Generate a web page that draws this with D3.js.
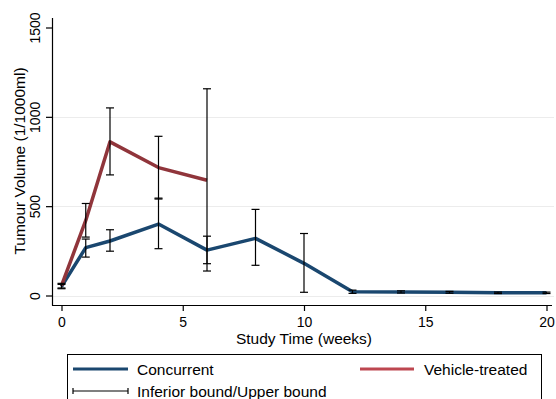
<!DOCTYPE html>
<html>
<head>
<meta charset="utf-8">
<script src="https://d3js.org/d3.v7.min.js"></script>
<style>
  body { margin: 0; background: #fff; }
  svg { font-family: "Liberation Sans", Arial, sans-serif; }
</style>
</head>
<body>
<svg id="chart" width="556" height="399"></svg>
<script>
// weeks and values (tumour volume, 1/1000ml)
var concWeeks = [0, 1, 2, 4, 6, 8, 10, 12, 14, 16, 18, 20];
var concMean  = [50, 268, 305, 400, 254, 320, 180, 21, 20, 18, 15, 15];
var concLow   = [38, 215, 248, 262, 178, 169, 18, 12, 14, 13, 11, 11];
var concHigh  = [62, 316, 368, 545, 332, 482, 347, 30, 26, 23, 19, 19];

var vehWeeks = [0, 1, 2, 4, 6];
var vehMean  = [55, 420, 860, 716, 645];
var vehLow   = [42, 327, 675, 540, 137];
var vehHigh  = [68, 515, 1050, 891, 1157];

var xTicks = [0, 5, 10, 15, 20];
var yTicks = [0, 500, 1000, 1500];

var blue = "#1a476f", red = "#90353b", redKey = "#bd4750";

var svg = d3.select("#chart");

var x = d3.scaleLinear().domain([0, 20]).range([61.5, 546.5]);
var y = d3.scaleLinear().domain([0, 1500]).range([295.5, 27.5]);

// gridlines
svg.append("g").selectAll("line")
  .data([0, 500, 1000])
  .enter().append("line")
    .attr("x1", 53).attr("x2", 554)
    .attr("y1", function(d) { return Math.round(y(d)) + 0.5; })
    .attr("y2", function(d) { return Math.round(y(d)) + 0.5; })
    .attr("stroke", "#ececec").attr("stroke-width", 1);

// axes
var yAxis = svg.append("g")
  .attr("transform", "translate(52,0)")
  .call(d3.axisLeft(y).tickValues(yTicks).tickFormat(d3.format("d")).tickSize(6).tickSizeOuter(0));
yAxis.select(".domain").attr("d", "M0.5,18V305.5");
yAxis.selectAll("text")
  .attr("transform", "rotate(-90)")
  .attr("x", 0).attr("y", -12).attr("dy", "0")
  .attr("text-anchor", "middle")
  .style("font-size", "14px").attr("fill", "#000");

var xAxis = svg.append("g")
  .attr("transform", "translate(0,305)")
  .call(d3.axisBottom(x).tickValues(xTicks).tickSize(6).tickSizeOuter(0));
xAxis.select(".domain").attr("d", "M52,0.5H552");
xAxis.selectAll("text").attr("y", 12).style("font-size", "14px").attr("fill", "#000");

svg.selectAll(".domain, .tick line").attr("stroke", "#000").attr("stroke-width", 1.2);
svg.selectAll(".tick text").attr("font-family", "Liberation Sans, Arial, sans-serif");

// axis titles
svg.append("text")
  .attr("x", x(10)).attr("y", 343.5)
  .attr("text-anchor", "middle")
  .style("font-size", "15.5px")
  .text("Study Time (weeks)");

svg.append("text")
  .attr("transform", "translate(24.5,161) rotate(-90)")
  .attr("text-anchor", "middle")
  .style("font-size", "15.5px")
  .text("Tumour Volume (1/1000ml)");

// series lines
function drawLine(weeks, vals, col) {
  var pts = weeks.map(function(w, i) { return [w, vals[i]]; });
  svg.append("path")
    .datum(pts)
    .attr("fill", "none")
    .attr("stroke", col)
    .attr("stroke-width", 3.5)
    .attr("stroke-linejoin", "round")
    .attr("d", d3.line().x(function(d) { return x(d[0]); }).y(function(d) { return y(d[1]); }));
}
drawLine(concWeeks, concMean, blue);
drawLine(vehWeeks, vehMean, red);

// error bars
function drawBars(weeks, lo, hi) {
  var g = svg.append("g").attr("stroke", "#000").attr("stroke-width", 1.2);
  weeks.forEach(function(w, i) {
    var cx = x(w);
    g.append("line").attr("x1", cx).attr("x2", cx).attr("y1", y(lo[i])).attr("y2", y(hi[i]));
    g.append("line").attr("x1", cx - 4).attr("x2", cx + 4).attr("y1", y(lo[i])).attr("y2", y(lo[i]));
    g.append("line").attr("x1", cx - 4).attr("x2", cx + 4).attr("y1", y(hi[i])).attr("y2", y(hi[i]));
  });
}
drawBars(concWeeks, concLow, concHigh);
drawBars(vehWeeks, vehLow, vehHigh);

// legend
var lg = svg.append("g");
lg.append("rect")
  .attr("x", 67.5).attr("y", 354.5).attr("width", 474).attr("height", 60)
  .attr("fill", "#fff").attr("stroke", "#000").attr("stroke-width", 1);
lg.append("line").attr("x1", 73).attr("x2", 128).attr("y1", 369).attr("y2", 369)
  .attr("stroke", blue).attr("stroke-width", 3);
lg.append("text").attr("x", 137).attr("y", 374.5).style("font-size", "15.5px").text("Concurrent");
lg.append("line").attr("x1", 360).attr("x2", 414).attr("y1", 369).attr("y2", 369)
  .attr("stroke", redKey).attr("stroke-width", 3);
lg.append("text").attr("x", 424).attr("y", 374.5).style("font-size", "15.5px").text("Vehicle-treated");
var eb = lg.append("g").attr("stroke", "#000").attr("stroke-width", 1.2);
eb.append("line").attr("x1", 73).attr("x2", 128).attr("y1", 391).attr("y2", 391);
eb.append("line").attr("x1", 73).attr("x2", 73).attr("y1", 388).attr("y2", 394);
eb.append("line").attr("x1", 128).attr("x2", 128).attr("y1", 388).attr("y2", 394);
lg.append("text").attr("x", 137).attr("y", 396.5).style("font-size", "15.5px").text("Inferior bound/Upper bound");
</script>
</body>
</html>
